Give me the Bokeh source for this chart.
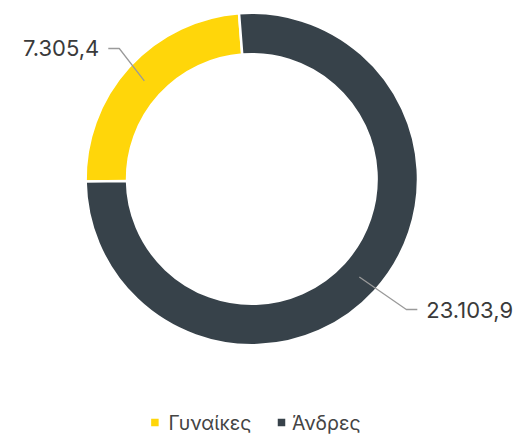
import math
from bokeh.plotting import figure
from bokeh.models import Range1d, ColumnDataSource
from bokeh.core.properties import value
from bokeh.embed import file_html
from bokeh.resources import INLINE

# ---- data ----
categories = ["Γυναίκες", "Άνδρες"]
values = [7305.4, 23103.9]
value_labels = ["7.305,4", "23.103,9"]
colors = ["#FFD60A", "#37424A"]

# ---- layout (pixels, y measured upward from bottom of page) ----
W, H = 518, 435
CX, CY = 251.3, 435 - 178.5
R_OUT, R_IN = 166.2, 124.8
START_DEG = 94.4
LABEL_R = 193.7
ELBOW_DX = [-25, 47]
FONT = "Inter"

p = figure(width=W, height=H, output_backend="svg", toolbar_location=None,
           x_range=Range1d(0, W), y_range=Range1d(0, H), min_border=0)
p.axis.visible = False
p.grid.visible = False
p.outline_line_color = None
p.background_fill_color = "white"
p.border_fill_color = "white"

total = sum(values)
starts, ends, mids = [], [], []
a = math.radians(START_DEG)
for v in values:
    span = v / total * 2 * math.pi
    starts.append(a)
    ends.append(a + span)
    mids.append(a + span / 2)
    a += span

src = ColumnDataSource(dict(x=[CX] * len(values), y=[CY] * len(values),
                            start=starts, end=ends, color=colors))
p.annular_wedge(x="x", y="y", inner_radius=R_IN, outer_radius=R_OUT,
                start_angle="start", end_angle="end", direction="anticlock",
                fill_color="color", line_color="white", line_width=2.5, source=src)

# connectors and value labels
r_mid = (R_IN + R_OUT) / 2
for i, (m, lab) in enumerate(zip(mids, value_labels)):
    x0 = CX + r_mid * math.cos(m)
    y0 = CY + r_mid * math.sin(m)
    ly = CY + LABEL_R * math.sin(m)
    ex = x0 + ELBOW_DX[i]
    side = 1 if math.cos(m) > 0 else -1
    hx = ex + side * 11
    p.line([x0, ex, hx], [y0, ly, ly], line_color="#9a9a9a", line_width=1.3)
    p.text(x=[hx + side * 9], y=[ly], text=[lab],
           text_align="left" if side > 0 else "right", text_baseline="middle",
           text_font=value(FONT), text_font_size="22px", text_color="#3a3a3a")

# legend
leg_y = 435 - 422
sq_x = [154.4, 281]
txt_x = [168, 291.5]
p.scatter(x=sq_x, y=[leg_y] * 2, marker="square", size=7.5, fill_color=colors,
          line_color=None)
p.text(x=txt_x, y=[leg_y] * 2, text=categories, text_align="left",
       text_baseline="middle", text_font=value(FONT), text_font_size="19.5px",
       text_color="#444444")

open("out.html", "w").write(file_html(p, INLINE))
